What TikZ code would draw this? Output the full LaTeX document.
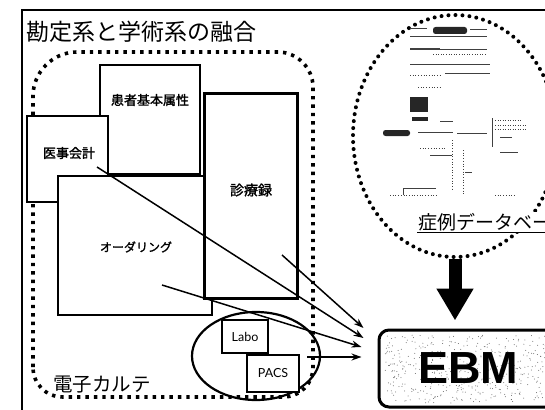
\documentclass[tikz,border=0pt]{standalone}
\usepackage{fontspec}
\newfontfamily\cjk{Noto Sans CJK JP}
\newfontfamily\cjkb[FakeBold=1.5]{Noto Sans CJK JP}
\newfontfamily\latfont{Lato}
\newfontfamily\ebmfont{Liberation Sans}
\usetikzlibrary{shapes.geometric,arrows.meta,calc}
\begin{document}
\begin{tikzpicture}[x=1pt,y=-1pt,
  box/.style={draw, fill=white, line width=1.2pt, inner sep=0pt},
  lbl/.style={font=\cjkb\fontsize{13}{13}\selectfont, inner sep=0pt},
  dotline/.style={line width=3.6pt, dash pattern=on 3.4pt off 5pt},
  rdots/.style={line width=4pt, line cap=round, dash pattern=on 0pt off 7pt},
  conn/.style={line width=1.5pt, -{Stealth[length=10pt,width=7pt]}},
  doc/.style={line width=0.7pt, black!75},
]
\useasboundingbox (0,0) rectangle (545,409);
% outer frame
\draw[line width=1.8pt] (22,415) -- (22,10) -- (560,10);
% title
\node[font=\cjk\fontsize{23}{23}\selectfont, anchor=west, inner sep=0pt] (title) at (26,32) {勘定系と学術系の融合};
% electronic chart dotted container
\draw[dotline] (33,367) -- (33,96) .. controls (33,72) and (53,52) .. (77,52) -- (278,52)
  .. controls (297,52) and (313,68) .. (313,87) -- (313,367)
  .. controls (313,384) and (300,397) .. (283,397) -- (63,397)
  .. controls (46,397) and (33,384) .. (33,367) -- cycle;
\node[font=\cjk\fontsize{19.5}{19.5}\selectfont, anchor=west, inner sep=0pt] (karte) at (53,385) {電子カルテ};
% boxes
\node[box, minimum width=100pt, minimum height=109pt] (kanja) at (150,119.5) {};
\node[lbl] (tkanja) at (150,100) {患者基本属性};
\node[box, minimum width=81pt, minimum height=86pt] (iji) at (67.5,159) {};
\node[lbl] (tiji) at (69,153) {医事会計};
\node[box, minimum width=154pt, minimum height=139pt] (order) at (135,245.5) {};
\node[lbl, font=\cjkb\fontsize{12}{12}\selectfont] (torder) at (136,247) {オーダリング};
\node[box, line width=3pt, minimum width=93pt, minimum height=204pt] (shinryo) at (250.5,196) {};
\node[lbl, font=\cjkb\fontsize{14}{14}\selectfont] (tshinryo) at (251,190) {診療録};
% Labo / PACS
\node[draw, ellipse, line width=2.2pt, minimum width=128pt, minimum height=88pt, inner sep=0pt] (lp) at (256,356) {};
\node[box, minimum width=46pt, minimum height=33pt, font=\latfont\fontsize{12.5}{12.5}\selectfont] (labo) at (245,336.5) {Labo};
\node[box, minimum width=52pt, minimum height=37pt, font=\latfont\fontsize{12.5}{12.5}\selectfont] (pacs) at (273,373.5) {PACS};
% case database
\node[draw, ellipse, rdots, minimum width=204pt, minimum height=242pt, inner sep=0pt] (db) at (455,136) {};
\begin{scope}[doc]
  \draw[line width=0.5pt] (410,28) -- (427,28);
  \fill[black!85, rounded corners=2.5pt] (433,27) rectangle (467,34);
  \draw[line width=0.5pt] (470,29) -- (487,29);
  \draw (410,36) -- (487,36);
  \draw[line width=1.4pt] (410,49) -- (440,49);
  \draw (440,49) -- (487,49);
  \draw[line width=0.6pt, dotted] (433,54) -- (487,54);
  \draw (410,64) -- (490,64);
  \draw[dotted] (410,75) -- (440,75);
  \draw[line width=1pt] (445,74) -- (490,74);
  \draw[dotted] (418,87) -- (440,87);
  \fill[black!85] (410,97) rectangle (428,112);
  \fill[black!85] (412,117) rectangle (428,121);
  \draw (440,121) -- (453,121);
  \fill[black!85, rounded corners=2.5pt] (383,130) rectangle (410,136);
  \draw (418,132) -- (453,132);
  \draw (457,133) -- (487,133);
  \draw (492,118) -- (492,147);
  \draw[line width=0.5pt, dotted] (495,120) -- (522,120);
  \draw[line width=0.5pt, dotted] (495,125) -- (527,125);
  \draw[line width=0.5pt, dotted] (495,129) -- (527,129);
  \draw (500,137) -- (512,137);
  \draw[dotted] (452,140) -- (452,190);
  \draw[dotted] (420,148) -- (445,148);
  \draw (430,155) -- (452,155);
  \draw[dotted] (463,150) -- (463,195);
  \draw[line width=1pt] (465,172) -- (472,172);
  \draw (500,152) -- (518,152);
  \draw (403,195) -- (403,188) -- (436,188);
  \draw[dotted] (390,195) -- (436,195);
  \draw[dotted] (495,195) -- (515,195);
\end{scope}
\node[font=\cjk\fontsize{19}{19}\selectfont, fill=white, inner sep=1pt, anchor=west] (dblbl) at (417,222) {症例データベース};
\draw[line width=1pt] (dblbl.south west) -- (dblbl.south east);
% EBM
\pgfmathsetseed{3}
\foreach \i in {1,...,450}{
  \pgfmathsetmacro\px{385+rnd*168}
  \pgfmathsetmacro\py{335+rnd*68}
  \fill[black!60] (\px,\py) circle (0.5pt);
}
\node[draw, line width=3pt, rounded corners=10pt, minimum width=178pt, minimum height=77pt, inner sep=0pt,
  font=\ebmfont\bfseries\fontsize{45}{45}\selectfont] (ebm) at (468,368.5) {EBM};
\draw[line width=13pt, -{Triangle[length=32pt,width=35pt]}] (db.south) -- ($(ebm.north -| db.south)+(0,-8)$);
% connectors
\coordinate (sA) at (97,167);
\coordinate (sB) at (282,255);
\coordinate (sC) at (162,285);
\coordinate (sD) at (307,357);
\draw[conn] (sA) -- ($(ebm.west)+(-14,-30.5)$);
\draw[conn] (sB) -- ($(ebm.west)+(-14,-40.5)$);
\draw[conn] (sC) -- ($(ebm.west)+(-16,-21.5)$);
\draw[conn] (sD) -- ($(ebm.west)+(-16,-11.5)$);
\end{tikzpicture}
\end{document}
